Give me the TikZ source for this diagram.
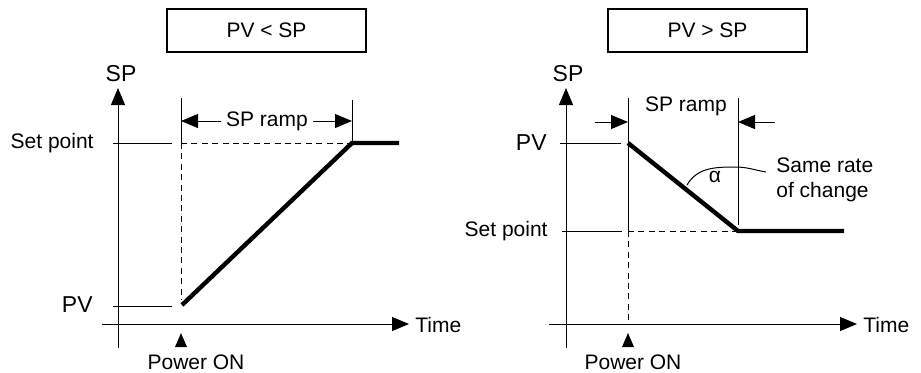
\documentclass[tikz,border=0pt]{standalone}
\usepackage{fontspec}
\setmainfont{Liberation Sans}
\usetikzlibrary{arrows.meta,positioning}
\tikzset{
  lbl/.style={inner sep=1pt,font=\fontsize{10.5}{12.5}\selectfont},
  biglbl/.style={inner sep=1pt,font=\fontsize{11.5}{13.5}\selectfont},
  titlebox/.style={draw,line width=0.9pt,minimum width=99.5pt,minimum height=21.5pt,inner sep=0pt,font=\fontsize{10.5}{12.5}\selectfont},
  axisline/.style={-{Triangle[length=8.5pt,width=7pt]},line width=0.5pt},
  dimarrow/.style={-{Triangle[length=8.5pt,width=7pt]},line width=0.5pt},
  levelline/.style={line width=0.5pt},
  guideline/.style={dashed,dash pattern=on 3pt off 2.2pt,line width=0.5pt},
  rampline/.style={line width=2.2pt},
  powermark/.style={fill=black}
}
\begin{document}
\begin{tikzpicture}[x=0.5pt,y=-0.5pt]
\useasboundingbox (0,0) rectangle (921,372);
% ---------- left panel: PV < SP ----------
\node[titlebox] (Ltitle) at (266.5,30.5) {PV < SP};
\coordinate (Lyb) at (118,348); \coordinate (Lyt) at (118,88);
\coordinate (Lxl) at (102,324); \coordinate (Lxr) at (409,324);
\node[biglbl] (Lsp) at (121,74) {SP};
\node[lbl,anchor=west] (Ltime) at (413,325) {Time};
\node[lbl,anchor=east] (Lset) at (96,143) {Set point};
\node[biglbl,anchor=east] (Lpv) at (95,305) {PV};
\node[lbl] (Lpower) at (196,362) {Power ON};
\node[lbl] (Lramp) at (267,121) {SP ramp};
\coordinate (Lstart) at (182,305);
\coordinate (Ltop) at (352,143);
\coordinate (Lend) at (399,143);
\draw[axisline] (Lyb) -- (Lyt);
\draw[axisline] (Lxl) -- (Lxr);
\draw[levelline] (113,143) -- (172,143);
\draw[levelline] (113,306) -- (172,306);
\draw[guideline] (181,143) -- (Ltop);
\draw[levelline] (181,98) -- (181,143);
\draw[guideline] (181,143) -- (181,300);
\draw[levelline] (352,100) -- (Ltop);
\draw[dimarrow] (Lramp.west) ++(-3,0) -- (181,121);
\draw[dimarrow] (Lramp.east) ++(3,0) -- (352,121);
\draw[rampline] (Lstart) -- (Ltop) -- (Lend);
\fill[powermark] (181,333) -- ++(-6,14) -- ++(12,0) -- cycle;
% ---------- right panel: PV > SP ----------
\node[titlebox] (Rtitle) at (707.5,30.5) {PV > SP};
\coordinate (Ryb) at (566,348); \coordinate (Ryt) at (566,88);
\coordinate (Rxl) at (549,324); \coordinate (Rxr) at (857,324);
\node[biglbl] (Rsp) at (568,74) {SP};
\node[lbl,anchor=west] (Rtime) at (861,325) {Time};
\node[biglbl,anchor=east] (Rpv) at (549,143) {PV};
\node[lbl,anchor=east] (Rset) at (550,231) {Set point};
\node[lbl] (Rpower) at (633,362) {Power ON};
\node[lbl] (Rramp) at (686,106) {SP ramp};
\node[lbl,anchor=west,align=left] (Rrate) at (774,180) {Same rate\\of change};
\node[lbl] (Ralpha) at (715,177) {α};
\coordinate (Rstart) at (628,143);
\coordinate (Rbot) at (738,231);
\coordinate (Rend) at (844,231);
\draw[axisline] (Ryb) -- (Ryt);
\draw[axisline] (Rxl) -- (Rxr);
\draw[levelline] (560,143) -- (621,143);
\draw[levelline] (562,231) -- (622,231);
\draw[guideline] (628,231) -- (Rbot);
\draw[levelline] (628,98) -- (628,231);
\draw[guideline] (628,231) -- (628,322);
\draw[levelline] (738,98) -- (738,225);
\draw[dimarrow] (595,122) -- (628,122);
\draw[dimarrow] (775,122) -- (738,122);
\draw[rampline] (Rstart) -- (Rbot) -- (Rend);
\draw[levelline] (687,185) to[out=60,in=180] (735,167) to[out=0,in=170] (766,172);
\fill[powermark] (628,333) -- ++(-6,14) -- ++(12,0) -- cycle;
\end{tikzpicture}
\end{document}
